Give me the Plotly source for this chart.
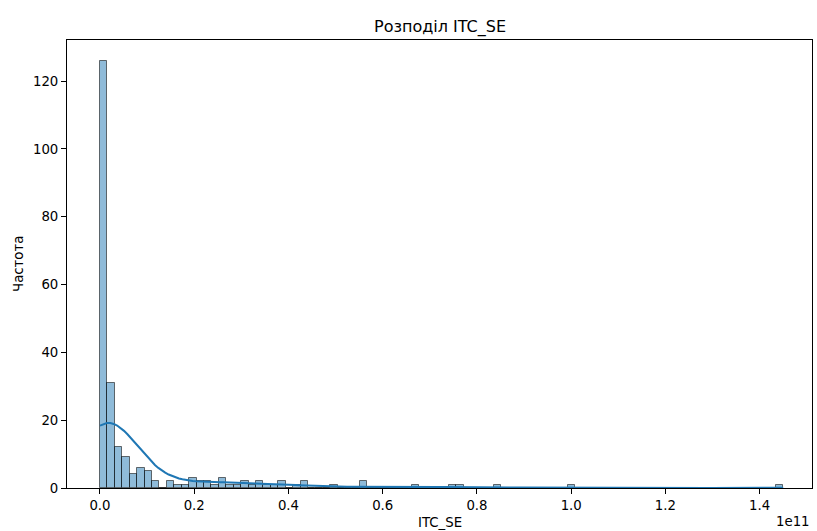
import numpy as np
import plotly.graph_objects as go

# Histogram of ITC_SE: bin layout and per-bin counts
BIN_START = 0.0
BIN_WIDTH = 1.576e9
counts = [
    126, 31, 12, 9, 4, 6, 5, 2, 0, 2,
    1, 1, 3, 2, 2, 1, 3, 1, 1, 2,
    1, 2, 1, 1, 2, 0, 1, 2, 0, 0,
    0, 1, 0, 0, 0, 2, 0, 0, 0, 0,
    0, 0, 1, 0, 0, 0, 0, 1, 1, 0,
    0, 0, 0, 1, 0, 0, 0, 0, 0, 0,
    0, 0, 0, 1, 0, 0, 0, 0, 0, 0,
    0, 0, 0, 0, 0, 0, 0, 0, 0, 0,
    0, 0, 0, 0, 0, 0, 0, 0, 0, 0,
    0, 1,
]

x_tick_vals = [0.0, 0.2e11, 0.4e11, 0.6e11, 0.8e11, 1.0e11, 1.2e11, 1.4e11]
x_tick_text = ["0.0", "0.2", "0.4", "0.6", "0.8", "1.0", "1.2", "1.4"]
y_tick_vals = [0, 20, 40, 60, 80, 100, 120]
y_tick_text = ["0", "20", "40", "60", "80", "100", "120"]

title_text = "Розподіл ITC_SE"
x_label = "ITC_SE"
y_label = "Частота"
offset_text = "1e11"

counts_arr = np.array(counts)
n_bins = len(counts_arr)
edges = BIN_START + BIN_WIDTH * np.arange(n_bins + 1)
centers = 0.5 * (edges[:-1] + edges[1:])

# Gaussian KDE (Scott's rule) over the observations, scaled to counts
obs = np.repeat(centers, counts_arr)
n_obs = obs.size
bw = obs.std(ddof=1) * n_obs ** (-1 / 5)
grid = np.linspace(edges[0], edges[-1], 200)
z = (grid[:, None] - obs[None, :]) / bw
dens = np.exp(-0.5 * z ** 2).sum(axis=1) / (n_obs * bw * np.sqrt(2 * np.pi))
kde_counts = dens * n_obs * BIN_WIDTH

FONT = "DejaVu Sans"

fig = go.Figure()
fig.add_trace(go.Bar(
    x=centers, y=counts_arr, width=BIN_WIDTH,
    marker=dict(color="rgba(31,119,180,0.5)",
                line=dict(color="rgba(0,0,0,0.55)", width=1)),
    showlegend=False, hoverinfo="x+y",
))
fig.add_trace(go.Scatter(
    x=grid, y=kde_counts, mode="lines",
    line=dict(color="#1f77b4", width=2),
    showlegend=False,
))

fig.update_layout(
    width=817, height=531,
    margin=dict(l=67, r=5, t=40, b=43),
    paper_bgcolor="white", plot_bgcolor="white",
    bargap=0,
    font=dict(family=FONT, size=13.3, color="black"),
    annotations=[
        dict(text=title_text, xref="paper", yref="paper", x=0.5, y=1.029,
             xanchor="center", yanchor="middle", showarrow=False,
             font=dict(family=FONT, size=16, color="black")),
        dict(text=x_label, xref="paper", yref="paper", x=0.5, y=-0.078,
             xanchor="center", yanchor="middle", showarrow=False,
             font=dict(family=FONT, size=13.3, color="black")),
        dict(text=y_label, xref="paper", yref="paper", x=-0.0658, y=0.5,
             xanchor="center", yanchor="middle", textangle=-90, showarrow=False,
             font=dict(family=FONT, size=13.3, color="black")),
        dict(text=offset_text, xref="paper", yref="paper", x=1.0, y=-0.0737,
             xanchor="right", yanchor="middle", showarrow=False,
             font=dict(family=FONT, size=13.3, color="black")),
    ],
)
fig.update_xaxes(
    range=[-0.0700e11, 1.511e11],
    tickvals=x_tick_vals, ticktext=x_tick_text,
    ticks="outside", ticklen=5, tickwidth=1, tickcolor="black",
    showline=True, linecolor="black", linewidth=1, mirror=True,
    showgrid=False, zeroline=False,
)
fig.update_yaxes(
    range=[0, 132.1],
    tickvals=y_tick_vals, ticktext=y_tick_text,
    ticks="outside", ticklen=5, tickwidth=1, tickcolor="black",
    showline=True, linecolor="black", linewidth=1, mirror=True,
    showgrid=False, zeroline=False,
)

fig.write_html("out.html")
